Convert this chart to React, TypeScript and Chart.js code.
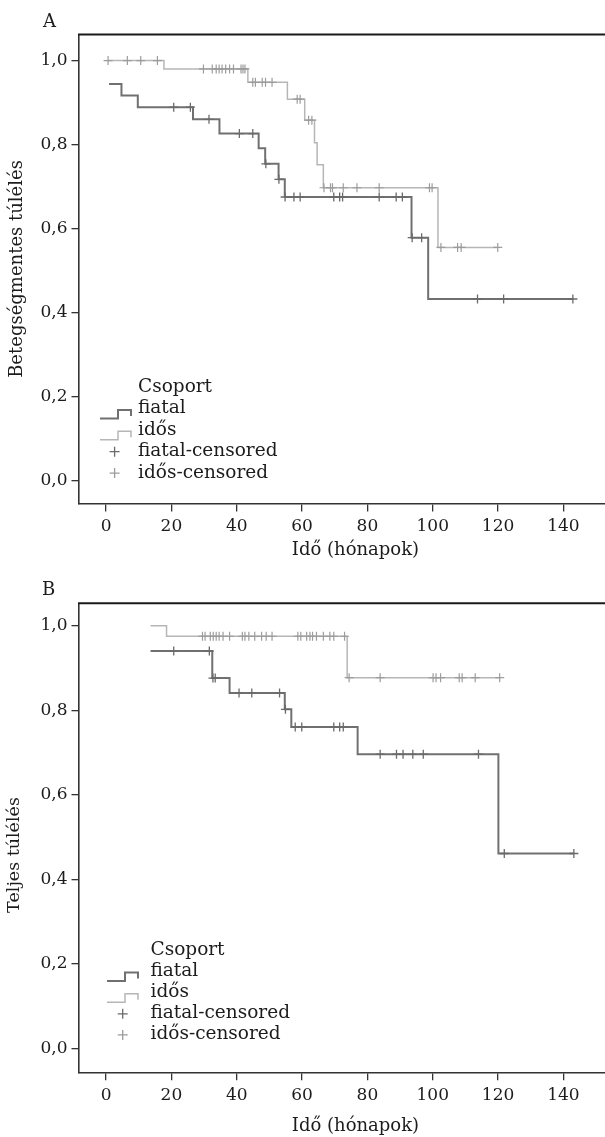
import React, { useEffect, useRef } from 'react';
import { Chart, registerables } from 'chart.js';

Chart.register(...registerables);

// ---------- shared axis data ----------
const xTickValues = [0, 20, 40, 60, 80, 100, 120, 140];
const yTickValues = [0, 0.2, 0.4, 0.6, 0.8, 1.0];
const legendTitle = 'Csoport';
const legendLabels = ['fiatal', 'idős', 'fiatal-censored', 'idős-censored'];
const xAxisTitle = 'Idő (hónapok)';

// ---------- Panel A: Betegségmentes túlélés ----------
const aFiatalTimes = [0.9, 4.7, 9.7, 26.6, 34.7, 46.7, 48.7, 52.8, 54.7, 93.5, 98.6, 142.9];
const aFiatalSurv = [0.944, 0.917, 0.889, 0.86, 0.826, 0.791, 0.754, 0.717, 0.675, 0.578, 0.432, 0.432];
const aFiatalCensored = [20.7, 25.8, 31.5, 40.8, 44.9, 48.9, 52.9, 54.8, 57.5, 59.4, 69.7, 71.5, 72.4, 83.6, 88.8, 90.7, 93.7, 96.6, 113.7, 121.7, 142.9];

const aIdosTimes = [0.4, 17.7, 43.4, 55.5, 60.8, 63.8, 64.6, 66.5, 101.6, 119.9];
const aIdosSurv = [1.0, 0.98, 0.948, 0.908, 0.858, 0.804, 0.752, 0.697, 0.555, 0.555];
const aIdosCensored = [0.6, 6.5, 10.6, 15.7, 29.8, 32.5, 33.7, 34.6, 35.5, 36.6, 37.8, 39.0, 41.3, 41.9, 42.5, 44.9, 45.7, 47.8, 48.8, 50.8, 58.5, 59.4, 62.0, 63.0, 66.7, 68.7, 69.3, 72.6, 76.8, 83.6, 99.0, 99.8, 102.5, 107.6, 108.7, 119.9];

// ---------- Panel B: Teljes túlélés ----------
const bFiatalTimes = [13.6, 32.5, 37.8, 54.7, 56.7, 77.0, 120.1, 143.2];
const bFiatalSurv = [0.94, 0.876, 0.841, 0.802, 0.76, 0.696, 0.461, 0.461];
const bFiatalCensored = [20.7, 31.6, 32.7, 33.4, 40.7, 44.6, 53.1, 54.9, 57.9, 59.9, 69.7, 71.5, 72.6, 83.9, 88.9, 90.9, 93.9, 97.1, 114.0, 121.9, 143.2];

const bIdosTimes = [13.6, 18.5, 73.8, 120.5];
const bIdosSurv = [1.0, 0.975, 0.877, 0.877];
const bIdosCensored = [29.5, 30.3, 31.9, 32.8, 33.7, 34.6, 35.8, 37.8, 41.7, 42.5, 43.7, 45.5, 47.6, 49.0, 50.8, 58.7, 59.6, 61.4, 62.4, 63.2, 64.4, 66.5, 68.5, 69.7, 73.0, 74.4, 83.9, 100.1, 101.0, 102.4, 108.1, 109.0, 113.0, 120.5];

// ---------- styles ----------
const FONT = '"DejaVu Serif", serif';
const TEXT = '#1c1c1c';
const AXIS = '#333333';
const FI_LINE = '#707070';
const FI_MARK = '#6a6a6a';
const ID_LINE = '#b6b6b6';
const ID_MARK = '#9c9c9c';

function stepPoints(times: number[], surv: number[]) {
  return times.map((t, i) => ({ x: t, y: surv[i] }));
}
function survAt(times: number[], surv: number[], t: number) {
  let s = surv[0];
  for (let i = 0; i < times.length; i++) if (times[i] <= t + 1e-9) s = surv[i];
  return s;
}
function censorPoints(cens: number[], times: number[], surv: number[]) {
  return cens.map((t) => ({ x: t, y: survAt(times, surv, t) }));
}

const decorPlugin = {
  id: 'kmDecor',
  afterDraw(chart: any, _args: any, o: any) {
    const { ctx, chartArea } = chart;
    ctx.save();
    // top frame line
    ctx.strokeStyle = '#1a1a1a';
    ctx.lineWidth = 2;
    ctx.beginPath();
    ctx.moveTo(chartArea.left - 1, chartArea.top);
    ctx.lineTo(chartArea.right, chartArea.top);
    ctx.stroke();

    ctx.fillStyle = TEXT;
    ctx.textAlign = 'center';
    ctx.textBaseline = 'middle';
    ctx.font = `18px ${FONT}`;
    ctx.fillText(o.panel, o.panelX, o.panelY);

    // y title
    ctx.save();
    ctx.translate(o.yTitleX, o.yTitleY);
    ctx.rotate(-Math.PI / 2);
    ctx.font = `${o.yTitleSize}px ${FONT}`;
    ctx.fillText(o.yTitle, 0, 0);
    ctx.restore();

    // legend
    const L = o.legend;
    ctx.font = `${L.size}px ${FONT}`;
    ctx.textAlign = 'left';
    ctx.textBaseline = 'alphabetic';
    ctx.fillText(legendTitle, L.textX, L.baseY);
    legendLabels.forEach((lab, i) => {
      const by = L.baseY + L.gap * (i + 1);
      ctx.fillStyle = TEXT;
      ctx.fillText(lab, L.textX, by);
      if (i < 2) {
        ctx.strokeStyle = i === 0 ? FI_LINE : ID_LINE;
        ctx.lineWidth = i === 0 ? 2 : 1.5;
        const low = by + 5;
        const high = by - 3.5;
        ctx.beginPath();
        ctx.moveTo(L.iconX, low);
        ctx.lineTo(L.iconX + 18, low);
        ctx.lineTo(L.iconX + 18, high);
        ctx.lineTo(L.iconX + 31, high);
        ctx.lineTo(L.iconX + 31, high + 6);
        ctx.stroke();
      } else {
        ctx.strokeStyle = i === 2 ? FI_MARK : ID_MARK;
        ctx.lineWidth = 1.3;
        const cy = by - 4.5;
        ctx.beginPath();
        ctx.moveTo(L.plusX - 5, cy);
        ctx.lineTo(L.plusX + 5, cy);
        ctx.moveTo(L.plusX, cy - 5);
        ctx.lineTo(L.plusX, cy + 5);
        ctx.stroke();
      }
    });
    ctx.restore();
  },
};

type PanelCfg = {
  height: number;
  chartTop: number;
  chartBottom: number;
  yMin: number;
  yMax: number;
  xTitlePad: number;
  fiatal: { times: number[]; surv: number[]; cens: number[] };
  idos: { times: number[]; surv: number[]; cens: number[] };
  decor: any;
};

const CANVAS_W = 640;
const CHART_LEFT = 79;
const CHART_RIGHT = 632;
const X_MIN = -8.3;
const X_MAX = 161.0;

function buildChart(canvas: HTMLCanvasElement, p: PanelCfg) {
  return new Chart(canvas, {
    type: 'line',
    data: {
      datasets: [
        {
          label: 'fiatal-censored',
          data: censorPoints(p.fiatal.cens, p.fiatal.times, p.fiatal.surv),
          showLine: false,
          pointStyle: 'cross',
          pointRadius: 4.5,
          pointBorderWidth: 1.3,
          pointBorderColor: FI_MARK,
          pointBackgroundColor: FI_MARK,
          order: 1,
        } as any,
        {
          label: 'idős-censored',
          data: censorPoints(p.idos.cens, p.idos.times, p.idos.surv),
          showLine: false,
          pointStyle: 'cross',
          pointRadius: 4.5,
          pointBorderWidth: 1.2,
          pointBorderColor: ID_MARK,
          pointBackgroundColor: ID_MARK,
          order: 1,
        },
        {
          label: 'fiatal',
          data: stepPoints(p.fiatal.times, p.fiatal.surv),
          stepped: 'before',
          borderColor: FI_LINE,
          borderWidth: 2,
          pointRadius: 0,
          fill: false,
          order: 2,
        },
        {
          label: 'idős',
          data: stepPoints(p.idos.times, p.idos.surv),
          stepped: 'before',
          borderColor: ID_LINE,
          borderWidth: 1.5,
          pointRadius: 0,
          fill: false,
          order: 3,
        },
      ],
    },
    options: {
      animation: false,
      responsive: false,
      devicePixelRatio: 1,
      events: [],
      layout: { padding: { left: 0, right: CANVAS_W - CHART_RIGHT, top: p.chartTop, bottom: 0 } },
      plugins: {
        legend: { display: false },
        tooltip: { enabled: false },
        kmDecor: p.decor,
      } as any,
      scales: {
        x: {
          type: 'linear',
          min: X_MIN,
          max: X_MAX,
          afterBuildTicks: (s: any) => {
            s.ticks = xTickValues.map((v) => ({ value: v }));
          },
          afterFit: (s: any) => {
            s.height = p.height - p.chartBottom;
          },
          grid: { drawOnChartArea: false, drawTicks: true, tickLength: 8, color: AXIS, lineWidth: 1.3 },
          border: { display: true, color: AXIS, width: 1.6 },
          ticks: {
            padding: 5,
            color: TEXT,
            font: { family: FONT, size: 17 },
            maxRotation: 0,
            autoSkip: false,
            callback: (v: any) => String(v),
          },
          title: {
            display: true,
            text: xAxisTitle,
            color: TEXT,
            font: { family: FONT, size: 18 },
            padding: { top: 0, bottom: p.xTitlePad },
          },
        },
        y: {
          type: 'linear',
          min: p.yMin,
          max: p.yMax,
          afterBuildTicks: (s: any) => {
            s.ticks = yTickValues.map((v) => ({ value: v }));
          },
          afterFit: (s: any) => {
            s.width = CHART_LEFT;
          },
          grid: { drawOnChartArea: false, drawTicks: true, tickLength: 7.5, color: AXIS, lineWidth: 1.3 },
          border: { display: true, color: AXIS, width: 1.6 },
          ticks: {
            padding: 4,
            color: TEXT,
            font: { family: FONT, size: 17 },
            autoSkip: false,
            callback: (v: any) => Number(v).toFixed(1).replace('.', ','),
          },
        },
      },
    },
    plugins: [decorPlugin as any],
  });
}

const panelA: PanelCfg = {
  height: 565,
  chartTop: 34.5,
  chartBottom: 503.5,
  yMin: -0.055,
  yMax: 1.062,
  xTitlePad: 4,
  fiatal: { times: aFiatalTimes, surv: aFiatalSurv, cens: aFiatalCensored },
  idos: { times: aIdosTimes, surv: aIdosSurv, cens: aIdosCensored },
  decor: {
    panel: 'A',
    panelX: 49.5,
    panelY: 22.5,
    yTitle: 'Betegségmentes túlélés',
    yTitleSize: 18,
    yTitleX: 17,
    yTitleY: 269,
    legend: { size: 18.5, textX: 138, baseY: 392, gap: 21.4, iconX: 100, plusX: 114.6 },
  },
};

const panelB: PanelCfg = {
  height: 572,
  chartTop: 38.3,
  chartBottom: 507.3,
  yMin: -0.0568,
  yMax: 1.053,
  xTitlePad: 0,
  fiatal: { times: bFiatalTimes, surv: bFiatalSurv, cens: bFiatalCensored },
  idos: { times: bIdosTimes, surv: bIdosSurv, cens: bIdosCensored },
  decor: {
    panel: 'B',
    panelX: 48.5,
    panelY: 25,
    yTitle: 'Teljes túlélés',
    yTitleSize: 17.5,
    yTitleX: 14,
    yTitleY: 290,
    legend: { size: 18.5, textX: 150.5, baseY: 390, gap: 21.1, iconX: 107, plusX: 122.7 },
  },
};

function Panel({ cfg, top }: { cfg: PanelCfg; top: number }) {
  const ref = useRef<HTMLCanvasElement | null>(null);
  useEffect(() => {
    if (!ref.current) return;
    const chart = buildChart(ref.current, cfg);
    return () => chart.destroy();
  }, [cfg]);
  return (
    <canvas
      ref={ref}
      width={CANVAS_W}
      height={cfg.height}
      style={{ position: 'absolute', left: 0, top, width: CANVAS_W, height: cfg.height, display: 'block' }}
    />
  );
}

export default function App() {
  return (
    <div
      style={{
        position: 'absolute',
        left: 0,
        top: 0,
        width: 605,
        height: 1137,
        overflow: 'hidden',
        background: '#ffffff',
      }}
    >
      <Panel cfg={panelA} top={0} />
      <Panel cfg={panelB} top={565} />
    </div>
  );
}
